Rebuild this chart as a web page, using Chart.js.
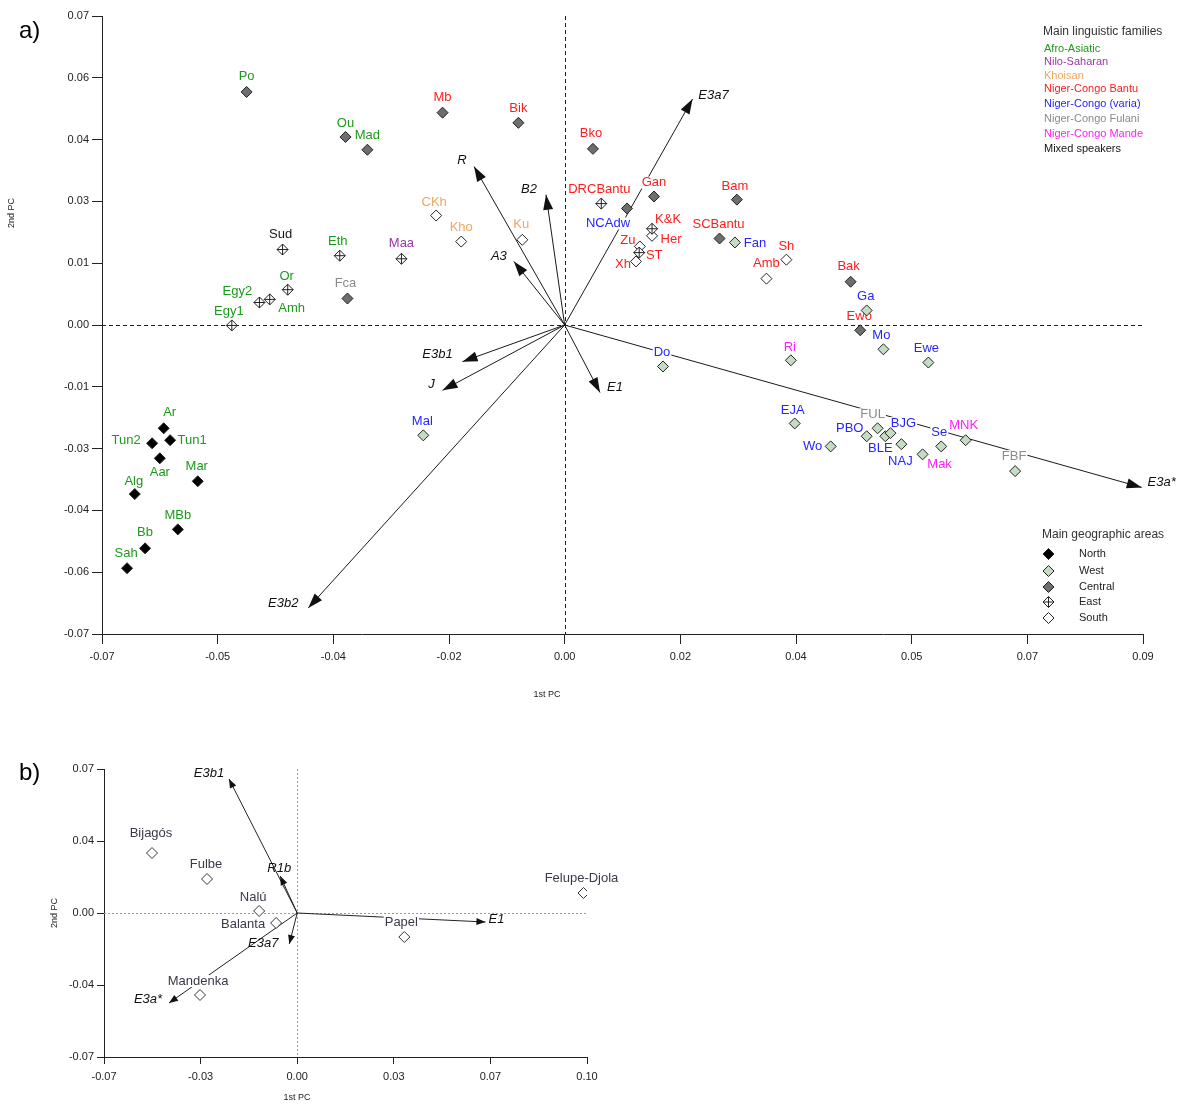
<!DOCTYPE html>
<html><head><meta charset="utf-8"><title>PCA biplots</title>
<script src="https://cdn.jsdelivr.net/npm/chart.js@4.4.1/dist/chart.umd.min.js"></script>
<style>
html,body{margin:0;padding:0;background:#fff;}
#wrap{position:relative;width:1200px;height:1115px;overflow:hidden;font-family:"Liberation Sans",Arial,Helvetica,sans-serif;}
canvas{position:absolute;left:0;}
#ca{top:0;}
#cb{top:735px;}
.tag{position:absolute;font-size:24px;line-height:28px;color:#000;z-index:2;}
</style></head>
<body><div id="wrap">
<canvas id="ca" width="1200" height="705" style="width:1200px;height:705px"></canvas>
<canvas id="cb" width="660" height="380" style="width:660px;height:380px"></canvas>
<div class="tag" style="left:19px;top:16px">a)</div>
<div class="tag" style="left:19px;top:758px">b)</div>
</div>
<script>
const FF='"Liberation Sans", Arial, Helvetica, sans-serif';
Chart.defaults.font.family=FF;

// ================= Panel a : data =================
const popNames=['Ar','Tun2','Tun1','Aar','Mar','Alg','MBb','Bb','Sah',
 'Po','Mb','Bik','Ou','Mad','Fca','Bko','NCAdw','Gan','Bam','SCBantu','Bak','Ewo',
 'Fan','Ga','Mo','Ewe','Ri','Do','Mal','EJA','Wo','PBO','FUL','BLE','BJG','NAJ','Mak','Se','MNK','FBF',
 'DRCBantu','K&K','ST','Sud','Eth','Maa','Or','Egy2','Amh','Egy1',
 'CKh','Kho','Ku','Her','Zu','Xh','Sh','Amb'];
const popRegion=['North','North','North','North','North','North','North','North','North',
 'Central','Central','Central','Central','Central','Central','Central','Central','Central','Central','Central','Central','Central',
 'West','West','West','West','West','West','West','West','West','West','West','West','West','West','West','West','West','West',
 'East','East','East','East','East','East','East','East','East','East',
 'South','South','South','South','South','South','South','South'];
const popFamily=['AA','AA','AA','AA','AA','AA','AA','AA','AA',
 'AA','NCB','NCB','AA','AA','NCF','NCB','NCV','NCB','NCB','NCB','NCB','NCB',
 'NCV','NCV','NCV','NCV','NCM','NCV','NCV','NCV','NCV','NCV','NCF','NCV','NCV','NCV','NCM','NCV','NCM','NCF',
 'NCB','NCB','NCB','MIX','AA','NS','AA','AA','AA','AA',
 'KH','KH','KH','NCB','NCB','NCB','NCB','NCB'];
const popX=[-0.0624,-0.0642,-0.0614,-0.0630,-0.0571,-0.0669,-0.0602,-0.0653,-0.0681,
 -0.0495,-0.0190,-0.0072,-0.0341,-0.0307,-0.0338,0.0044,0.0097,0.0139,0.0268,0.0241,0.0445,0.0460,
 0.0265,0.0470,0.0496,0.0566,0.0352,0.0153,-0.0220,0.0358,0.0414,0.0470,0.0487,0.0499,0.0507,0.0524,0.0557,0.0586,0.0624,0.0701,
 0.0057,0.0136,0.0116,-0.0439,-0.0350,-0.0254,-0.0431,-0.0475,-0.0459,-0.0518,
 -0.0200,-0.0161,-0.0066,0.0136,0.0117,0.0111,0.0345,0.0314];
const popY=[-0.0234,-0.0268,-0.0261,-0.0302,-0.0354,-0.0383,-0.0463,-0.0506,-0.0551,
 0.0528,0.0481,0.0458,0.0426,0.0397,0.0060,0.0399,0.0264,0.0291,0.0284,0.0196,0.0098,-0.0012,
 0.0187,0.0033,-0.0055,-0.0085,-0.0080,-0.0094,-0.0250,-0.0223,-0.0275,-0.0252,-0.0234,-0.0252,-0.0245,-0.0270,-0.0293,-0.0275,-0.0261,-0.0331,
 0.0275,0.0218,0.0164,0.0171,0.0157,0.0150,0.0080,0.0051,0.0058,-0.0001,
 0.0248,0.0189,0.0193,0.0202,0.0178,0.0144,0.0148,0.0105];
const vecNames=['E3a7','R','B2','A3','E3b1','J','E3b2','E1','E3a*'];
const vecX=[0.0199,-0.0141,-0.0029,-0.0079,-0.0159,-0.0190,-0.0399,0.0055,0.0898];
const vecY=[0.0512,0.0359,0.0295,0.0144,-0.0083,-0.0148,-0.0641,-0.0153,-0.0368];
const familyKeys=['AA','NS','KH','NCB','NCV','NCF','NCM','MIX'];
const familyNames=['Afro-Asiatic','Nilo-Saharan','Khoisan','Niger-Congo Bantu','Niger-Congo (varia)','Niger-Congo Fulani','Niger-Congo Mande','Mixed speakers'];
const regionNames=['North','West','Central','East','South'];
const xTicksA=['-0.07','-0.05','-0.04','-0.02','0.00','0.02','0.04','0.05','0.07','0.09'];
const yTicksA=['-0.07','-0.06','-0.04','-0.03','-0.01','0.00','0.01','0.03','0.04','0.06','0.07'];

// ================= Panel b : data =================
const bNames=['Bijagós','Fulbe','Nalú','Balanta','Mandenka','Papel','Felupe-Djola'];
const bX=[-0.0496,-0.0308,-0.0130,-0.0072,-0.0332,0.0366,0.0978];
const bY=[0.0300,0.0170,0.0010,-0.0050,-0.0410,-0.0120,0.0100];
const bVecNames=['E3b1','R1b','E3a7','E3a*','E1'];
const bVecX=[-0.0233,-0.0058,-0.0027,-0.0438,0.0643];
const bVecY=[0.0670,0.0185,-0.0155,-0.0450,-0.0045];
const xTicksB=['-0.07','-0.03','0.00','0.03','0.07','0.10'];
const yTicksB=['-0.07','-0.04','0.00','0.04','0.07'];

// ================= styles =================
const familyColor={AA:'#1d9a1d',NS:'#9b36a8',KH:'#f5a55e',NCB:'#ff1c1c',NCV:'#2525ff',NCF:'#8a8a8a',NCM:'#ff20ff',MIX:'#151515'};
const regionFill={North:'#000000',West:'#c4dcc4',Central:'#6e6e6e',East:'#ffffff',South:'#ffffff'};
const popLabelOffset={Ar:[6,-16],Tun2:[-26,-3],Tun1:[22,0],Aar:[0,14],Mar:[-1,-15],Alg:[-1,-13],MBb:[0,-14],Bb:[0,-16],Sah:[-1,-15],
 Po:[0,-16],Mb:[0,-15],Bik:[0,-14],Ou:[0,-14],Mad:[0,-14],Fca:[-2,-15],Bko:[-2,-15],NCAdw:[-19,15],Gan:[0,-14],Bam:[-2,-13],SCBantu:[-1,-14],Bak:[-2,-15],Ewo:[-1,-14],
 Fan:[20,1],Ga:[-1,-14],Mo:[-2,-14],Ewe:[-2,-14],Ri:[-1,-13],Do:[-1,-14],Mal:[-1,-14],EJA:[-2,-13],Wo:[-18,0],PBO:[-17,-8],FUL:[-5,-14],BLE:[-5,12],BJG:[13,-10],NAJ:[-1,17],Mak:[17,10],Se:[-2,-14],MNK:[-2,-15],FBF:[-1,-15],
 DRCBantu:[-2,-14],'K&K':[16,-9],ST:[15,3],Sud:[-2,-15],Eth:[-2,-14],Maa:[0,-15],Or:[-1,-13],Egy2:[-22,-11],Amh:[22,9],Egy1:[-3,-14],
 CKh:[-2,-13],Kho:[0,-14],Ku:[-1,-15],Her:[19,4],Zu:[-12,-6],Xh:[-13,3],Sh:[0,-13],Amb:[0,-15]};
const vecLabelOffsetA={E3a7:[21,-4],R:[-12,-6],B2:[-17,-5],A3:[-15,-5],E3b1:[-25,-7],J:[-11,-6],E3b2:[-25,-5],E1:[15,-5],'E3a*':[20,-5]};
const bLabelOffset={'Bijagós':[-1,-20],Fulbe:[-1,-15],'Nalú':[-6,-14],Balanta:[-33,1],Mandenka:[-2,-14],Papel:[-3,-15],'Felupe-Djola':[-2,-15]};
const bVecLabelOffset={E3b1:[-20,-6],R1b:[-1,-8],E3a7:[-26,-1],'E3a*':[-21,-4],E1:[11,-3]};

// ================= helpers =================
function fixedTicks(min,step,labels){return function(scale){scale.ticks=labels.map((_,i)=>({value:+(min+i*step).toFixed(6)}));};}
function arrowHead(ctx,x0,y0,x1,y1,len,hw){
  const a=Math.atan2(y1-y0,x1-x0),c=Math.cos(a),s=Math.sin(a);
  ctx.beginPath();ctx.moveTo(x1,y1);
  ctx.lineTo(x1-len*c+hw*s,y1-len*s-hw*c);
  ctx.lineTo(x1-len*c-hw*s,y1-len*s+hw*c);
  ctx.closePath();ctx.fill();
}
function diamond(ctx,x,y,r,fill,cross){
  ctx.beginPath();ctx.moveTo(x-r,y);ctx.lineTo(x,y-r);ctx.lineTo(x+r,y);ctx.lineTo(x,y+r);ctx.closePath();
  ctx.fillStyle=fill;ctx.fill();ctx.lineWidth=1;ctx.strokeStyle='#222';ctx.stroke();
  if(cross){ctx.beginPath();ctx.moveTo(x-r,y);ctx.lineTo(x+r,y);ctx.moveTo(x,y-r);ctx.lineTo(x,y+r);ctx.stroke();}
}
function labels(ctx,items,font,bg){
  ctx.font=font;ctx.textAlign='center';ctx.textBaseline='middle';
  if(bg){ctx.fillStyle='#fff';items.forEach(it=>{const w=ctx.measureText(it.t).width;ctx.fillRect(it.x-w/2-1,it.y-6,w+2,12);});}
  items.forEach(it=>{ctx.fillStyle=it.c;ctx.fillText(it.t,it.x,it.y);});
}
function zeroLines(chart,color,dash){
  const {ctx,chartArea:a,scales:{x,y}}=chart;
  const px=Math.round(x.getPixelForValue(0))+0.5,py=Math.round(y.getPixelForValue(0))+0.5;
  ctx.save();ctx.strokeStyle=color;ctx.lineWidth=1;ctx.setLineDash(dash);
  ctx.beginPath();ctx.moveTo(px,a.top);ctx.lineTo(px,a.bottom);ctx.moveTo(a.left,py);ctx.lineTo(a.right,py);ctx.stroke();
  ctx.restore();
}
function makePlugin(key,zColor,zDash,overlay,extra){
  return {id:'biplot'+key,
    beforeDatasetsDraw(chart){chart.$lblDone=false;zeroLines(chart,zColor,zDash);},
    beforeDatasetDraw(chart,args){const ds=chart.data.datasets[args.index];if(ds.kind==='pts'&&!chart.$lblDone){chart.$lblDone=true;overlay(chart);}},
    afterDraw(chart){extra(chart);}
  };
}
function axisCfg(min,max,step,lbls,fit,horizontal,tickLen){
  const c={type:'linear',min:min,max:max,afterBuildTicks:fixedTicks(min,step,lbls),
    ticks:{autoSkip:false,maxRotation:0,padding:horizontal?6:3,color:'#222',font:{size:11},callback:(v,i)=>lbls[i]},
    grid:{drawOnChartArea:false,drawTicks:true,tickLength:tickLen,color:'#222',lineWidth:1},
    border:{display:true,color:'#222',width:1}};
  c.afterFit=horizontal?(s=>{s.height=fit;}):(s=>{s.width=fit;});
  return c;
}

// ================= Panel a =================
(function(){
  const pts=r=>popNames.map((n,i)=>i).filter(i=>popRegion[i]===r).map(i=>({x:popX[i],y:popY[i]}));
  const ds=[];
  ds.push({kind:'pts',data:pts('East'),pointStyle:'cross',pointRadius:5.5,borderColor:'#222',borderWidth:1,showLine:false});
  regionNames.forEach(r=>ds.push({kind:'pts',data:pts(r),pointStyle:'rectRot',pointRadius:5.5,backgroundColor:regionFill[r],borderColor:'#222',borderWidth:1,showLine:false}));
  vecNames.forEach((n,i)=>ds.push({kind:'vec',data:[{x:0,y:0},{x:vecX[i],y:vecY[i]}],showLine:true,borderColor:'#1a1a1a',borderWidth:1,pointRadius:0}));

  const overlay=chart=>{
    const {ctx,scales:{x,y}}=chart;const ox=x.getPixelForValue(0),oy=y.getPixelForValue(0);
    ctx.save();ctx.fillStyle='#111';
    vecNames.forEach((n,i)=>arrowHead(ctx,ox,oy,x.getPixelForValue(vecX[i]),y.getPixelForValue(vecY[i]),15,5));
    labels(ctx,vecNames.map((n,i)=>({t:n,x:x.getPixelForValue(vecX[i])+vecLabelOffsetA[n][0],y:y.getPixelForValue(vecY[i])+vecLabelOffsetA[n][1],c:'#111'})),'italic 13px '+FF,false);
    labels(ctx,popNames.map((n,i)=>({t:n,x:x.getPixelForValue(popX[i])+popLabelOffset[n][0],y:y.getPixelForValue(popY[i])+popLabelOffset[n][1],c:familyColor[popFamily[i]]})),'13px '+FF,true);
    ctx.restore();
  };
  const extra=chart=>{
    const ctx=chart.ctx;ctx.save();
    ctx.textAlign='left';ctx.textBaseline='middle';
    ctx.font='12px '+FF;ctx.fillStyle='#333';ctx.fillText('Main linguistic families',1043,32);
    const fy=[49,62,76,89,104,119,134,149];
    ctx.font='11px '+FF;
    familyKeys.forEach((k,i)=>{ctx.fillStyle=familyColor[k];ctx.fillText(familyNames[i],1044,fy[i]);});
    ctx.font='12px '+FF;ctx.fillStyle='#333';ctx.fillText('Main geographic areas',1042,535);
    const gy=[554,571,587,602,618];
    regionNames.forEach((r,i)=>{diamond(ctx,1048.5,gy[i],5.5,regionFill[r],r==='East');ctx.font='11px '+FF;ctx.fillStyle='#222';ctx.textAlign='left';ctx.fillText(r,1079,gy[i]);});
    // axis titles
    ctx.font='9px '+FF;ctx.fillStyle='#222';ctx.textAlign='center';
    ctx.fillText('1st PC',547,695);
    ctx.translate(12,213);ctx.rotate(-Math.PI/2);ctx.fillText('2nd PC',0,0);
    ctx.restore();
  };
  new Chart(document.getElementById('ca'),{type:'scatter',data:{datasets:ds},
    options:{responsive:false,animation:false,devicePixelRatio:1,events:[],
      layout:{padding:{top:16,right:57,left:0,bottom:0}},
      plugins:{legend:{display:false},tooltip:{enabled:false}},
      scales:{x:axisCfg(-0.072,0.09,0.018,xTicksA,71,true,10),y:axisCfg(-0.07,0.07,0.014,yTicksA,102,false,10)}},
    plugins:[makePlugin('A','#222',[4,3],overlay,extra)]});
})();

// ================= Panel b =================
(function(){
  const ds=[];
  ds.push({kind:'pts',data:bNames.map((n,i)=>({x:bX[i],y:bY[i]})),pointStyle:'rectRot',pointRadius:5.5,backgroundColor:'#fff',borderColor:'#333',borderWidth:1,showLine:false});
  bVecNames.forEach((n,i)=>ds.push({kind:'vec',data:[{x:0,y:0},{x:bVecX[i],y:bVecY[i]}],showLine:true,borderColor:'#222',borderWidth:1,pointRadius:0}));
  const overlay=chart=>{
    const {ctx,scales:{x,y}}=chart;const ox=x.getPixelForValue(0),oy=y.getPixelForValue(0);
    ctx.save();ctx.fillStyle='#111';
    bVecNames.forEach((n,i)=>arrowHead(ctx,ox,oy,x.getPixelForValue(bVecX[i]),y.getPixelForValue(bVecY[i]),9,3.5));
    labels(ctx,bNames.map((n,i)=>({t:n,x:x.getPixelForValue(bX[i])+bLabelOffset[n][0],y:y.getPixelForValue(bY[i])+bLabelOffset[n][1],c:'#3a3a4a'})),'13px '+FF,true);
    labels(ctx,bVecNames.map((n,i)=>({t:n,x:x.getPixelForValue(bVecX[i])+bVecLabelOffset[n][0],y:y.getPixelForValue(bVecY[i])+bVecLabelOffset[n][1],c:'#111'})),'italic 13px '+FF,false);
    ctx.restore();
  };
  const extra=chart=>{
    const ctx=chart.ctx;ctx.save();
    ctx.font='9px '+FF;ctx.fillStyle='#222';ctx.textAlign='center';ctx.textBaseline='middle';
    ctx.fillText('1st PC',297,363);
    ctx.translate(55,178);ctx.rotate(-Math.PI/2);ctx.fillText('2nd PC',0,0);
    ctx.restore();
  };
  new Chart(document.getElementById('cb'),{type:'scatter',data:{datasets:ds},
    options:{responsive:false,animation:false,devicePixelRatio:1,events:[],
      layout:{padding:{top:34,right:73,left:0,bottom:0}},
      plugins:{legend:{display:false},tooltip:{enabled:false}},
      scales:{x:axisCfg(-0.066,0.099,0.033,xTicksB,58,true,7),y:axisCfg(-0.072,0.072,0.036,yTicksB,104,false,7)}},
    plugins:[makePlugin('B','#999',[2,2],overlay,extra)]});
})();
</script>
</body></html>
